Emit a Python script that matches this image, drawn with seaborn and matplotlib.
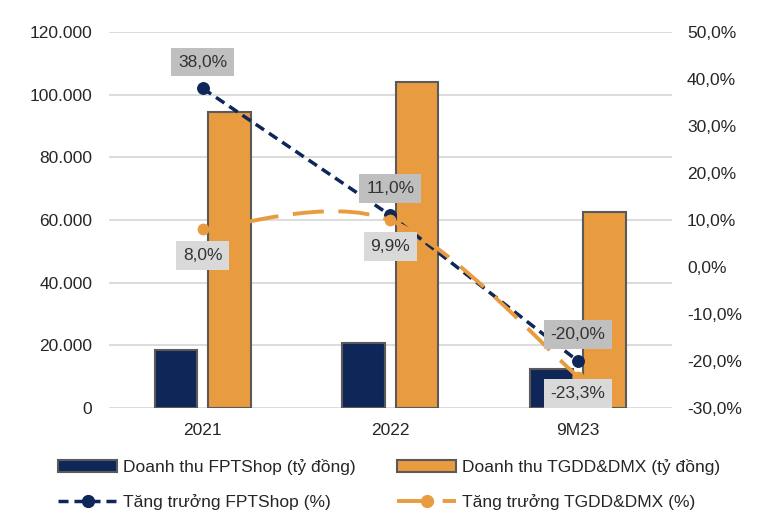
import numpy as np
import pandas as pd
import matplotlib
matplotlib.use("Agg")
import matplotlib.pyplot as plt
import seaborn as sns
from matplotlib.path import Path
from matplotlib.patches import PathPatch, Patch
from matplotlib.lines import Line2D
from matplotlib.ticker import FuncFormatter, MultipleLocator

# ---- data ----
categories = ["2021", "2022", "9M23"]
fpt_revenue = [18500, 20800, 12300]
tgdd_revenue = [94400, 104000, 62500]
fpt_growth = [38.0, 11.0, -20.0]
tgdd_growth = [8.0, 9.9, -23.3]
fpt_labels = ["38,0%", "11,0%", "-20,0%"]
tgdd_labels = ["8,0%", "9,9%", "-23,3%"]
bar_names = ["Doanh thu FPTShop (tỷ đồng)", "Doanh thu TGDD&DMX (tỷ đồng)"]
line_names = ["Tăng trưởng FPTShop (%)", "Tăng trưởng TGDD&DMX (%)"]

sns.set_theme(style="white")
plt.rcParams["font.family"] = ["Liberation Sans", "DejaVu Sans"]

NAVY = "#0E2658"
ORANGE = "#E99B3F"
EDGE = "#5A5A5A"
TXT = "#262626"
FS = 12.5

df = pd.DataFrame({
    "cat": categories * 2,
    "val": fpt_revenue + tgdd_revenue,
    "series": [bar_names[0]] * len(categories) + [bar_names[1]] * len(categories),
})

fig = plt.figure(figsize=(7.65, 5.31), dpi=100)
ax = fig.add_axes([0.1425, 0.2316, 0.7355, 0.7081])
sns.barplot(data=df, x="cat", y="val", hue="series", palette=[NAVY, ORANGE],
            width=0.57, gap=0.2, edgecolor=EDGE, linewidth=1.5, saturation=1,
            legend=False, ax=ax, zorder=2)
ax.set_xlim(-0.5, len(categories) - 0.5)
ax.set_ylim(0, 120000)
ax.yaxis.set_major_locator(MultipleLocator(20000))
ax.yaxis.set_major_formatter(FuncFormatter(lambda v, _: f"{int(round(v)):,}".replace(",", ".")))
ax.yaxis.grid(True, color="#D9D9D9", lw=1.3)
ax.set_axisbelow(True)
ax.set_xlabel("")
ax.set_ylabel("")
ax.tick_params(axis="y", length=0, pad=12, labelsize=FS, labelcolor=TXT)
ax.tick_params(axis="x", length=0, pad=11, labelsize=FS, labelcolor=TXT)
for s in ax.spines.values():
    s.set_visible(False)

ax2 = ax.twinx()
ax2.set_ylim(-30, 50)
ax2.yaxis.set_major_locator(MultipleLocator(10))
ax2.yaxis.set_major_formatter(FuncFormatter(lambda v, _: f"{v:.1f}%".replace(".", ",")))
ax2.tick_params(axis="y", length=0, pad=11, labelsize=FS, labelcolor=TXT)
for s in ax2.spines.values():
    s.set_visible(False)
ax2.grid(False)

xpos = np.arange(len(categories), dtype=float)
fpt_ls = (0, (2.9, 1.7))
tgdd_ls = (0, (8, 3.75))

sns.lineplot(x=xpos, y=fpt_growth, ax=ax2, color=NAVY, lw=2.5, linestyle=fpt_ls,
             marker="o", markersize=8.5, markeredgecolor=NAVY, zorder=3)

# smoothed (Excel-like) curve through the TGDD points
P = np.column_stack([xpos, np.array(tgdd_growth)])
n = len(P)
verts = [P[0]]
codes = [Path.MOVETO]
for i in range(n - 1):
    p0 = P[max(i - 1, 0)]
    p1 = P[i]
    p2 = P[i + 1]
    p3 = P[min(i + 2, n - 1)]
    verts += [p1 + (p2 - p0) / 6, p2 - (p3 - p1) / 6, p2]
    codes += [Path.CURVE4] * 3
ax2.add_patch(PathPatch(Path(verts, codes), fill=False, edgecolor=ORANGE, lw=2.8,
                        linestyle=tgdd_ls, zorder=4))
sns.scatterplot(x=xpos, y=tgdd_growth, ax=ax2, color=ORANGE, s=72,
                edgecolor=ORANGE, linewidth=0, zorder=5, legend=False)

# data labels
for i, (v, t) in enumerate(zip(fpt_growth, fpt_labels)):
    ax2.annotate(t, (xpos[i], v), xytext=(0, 19), textcoords="offset points",
                 ha="center", va="center", fontsize=FS, color="#333333", zorder=7,
                 bbox=dict(boxstyle="square,pad=0.4", fc="#BFBFBF", ec="none"))
tgdd_off = [-19, -19, -12]
for i, (v, t) in enumerate(zip(tgdd_growth, tgdd_labels)):
    ax2.annotate(t, (xpos[i], v), xytext=(0, tgdd_off[i]), textcoords="offset points",
                 ha="center", va="center", fontsize=FS, color="#333333", zorder=7,
                 bbox=dict(boxstyle="square,pad=0.4", fc="#D9D9D9", ec="none"))

# legend
handles = [
    Patch(facecolor=NAVY, edgecolor=EDGE, lw=1.5),
    Line2D([], [], color=NAVY, lw=2.5, linestyle=fpt_ls, marker="o", markersize=8.5),
    Patch(facecolor=ORANGE, edgecolor=EDGE, lw=1.5),
    Line2D([], [], color=ORANGE, lw=2.8, linestyle=tgdd_ls, marker="o", markersize=8.5),
]
labels = [bar_names[0], line_names[0], bar_names[1], line_names[1]]
leg = fig.legend(handles, labels, ncol=2, loc="upper left", bbox_to_anchor=(0.0758, 0.136),
                 frameon=False, fontsize=FS, handlelength=3.4, handletextpad=0.35,
                 columnspacing=2.4, labelspacing=1.1, borderpad=0, borderaxespad=0)
for t in leg.get_texts():
    t.set_color(TXT)

fig.savefig("out.png", dpi=100)
